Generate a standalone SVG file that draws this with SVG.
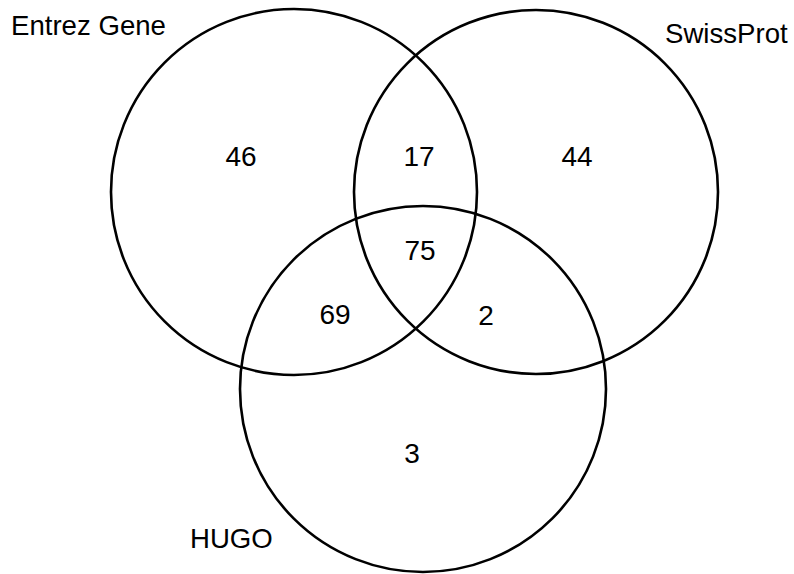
<svg xmlns="http://www.w3.org/2000/svg" width="794" height="574" viewBox="0 0 794 574">
  <style>
    .set { fill: none; stroke: #000; stroke-width: 2.6; }
    .label { font-family: "Liberation Sans", Arial, sans-serif; font-size: 27.6px; fill: #000; }
    .count { font-family: "Liberation Sans", Arial, sans-serif; font-size: 28px; fill: #000; text-anchor: middle; }
  </style>
  <rect width="794" height="574" fill="#fff"/>
  <!-- three overlapping sets -->
  <g id="entrez-gene">
    <circle class="set" cx="294" cy="192" r="183"/>
    <text class="label" x="11" y="35">Entrez Gene</text>
  </g>
  <g id="swissprot">
    <circle class="set" cx="536" cy="192" r="182"/>
    <text class="label" x="665" y="43">SwissProt</text>
  </g>
  <g id="hugo">
    <circle class="set" cx="423" cy="389" r="183"/>
    <text class="label" x="190" y="548">HUGO</text>
  </g>
  <!-- region counts -->
  <g id="counts">
    <text class="count" x="241" y="166">46</text>
    <text class="count" x="419" y="166">17</text>
    <text class="count" x="577" y="166">44</text>
    <text class="count" x="420" y="260">75</text>
    <text class="count" x="335" y="324">69</text>
    <text class="count" x="486" y="325">2</text>
    <text class="count" x="412" y="463">3</text>
  </g>
</svg>
